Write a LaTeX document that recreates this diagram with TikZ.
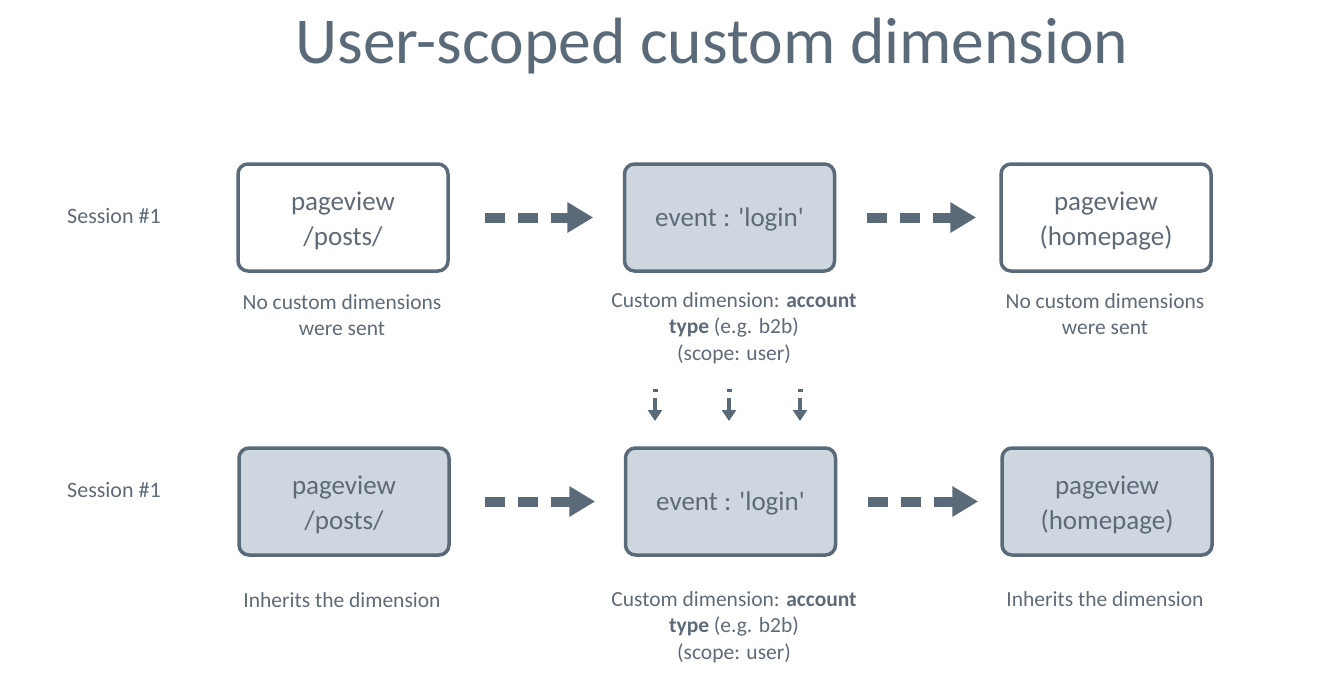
\documentclass[tikz,border=0pt]{standalone}
\usepackage{fontspec}
\setmainfont{Carlito}
\usetikzlibrary{arrows.meta}
\definecolor{slate}{HTML}{5A6A78}
\definecolor{txt}{HTML}{5E6A76}
\definecolor{boxfill}{HTML}{CED6E0}
\tikzset{
  x=1pt,y=1pt,
  stepbox/.style={draw=slate, line width=3.5pt, rounded corners=10pt, minimum width=210pt, minimum height=107pt, inner sep=0pt},
  filledbox/.style={stepbox, fill=boxfill},
  boxtext/.style={align=center, text=txt, font=\fontsize{27}{35}\selectfont, inner sep=0pt},
  lbl/.style={align=center, text=txt, font=\fontsize{21.5}{26.5}\selectfont, inner sep=0pt},
  dasharrow/.style={draw=slate, line width=10pt, dash pattern=on 20pt off 13pt, -{Triangle[length=26pt,width=29pt]}},
  downarrow/.style={draw=slate, line width=4.5pt, -{Triangle[length=11pt,width=14pt]}},
  tick/.style={draw=slate, line width=5pt}
}
\begin{document}
\begin{tikzpicture}
\useasboundingbox (0,0) rectangle (1322,-689);
\node[text=slate, font=\fontsize{65.5}{70}\selectfont, inner sep=0pt] (title) at (712,-46) {User-scoped custom dimension};

% row 1
\node[lbl, anchor=west, font=\fontsize{22}{26}\selectfont] (s1) at (67,-216) {Session \#1};
\node[stepbox] (a1) at (343,-217.5) {};
\node[filledbox] (b1) at (729.5,-217.5) {};
\node[stepbox] (c1) at (1106,-217.5) {};
\node[boxtext] (a1t) at ([yshift=-3.5]a1.center) {pageview\\/posts/};
\node[boxtext] (b1t) at ([yshift=-2]b1.center) {event : \textquotesingle login\textquotesingle};
\node[boxtext] (c1t) at ([yshift=-3.5]c1.center) {pageview\\(homepage)};
\draw[dasharrow, shorten <=35pt, shorten >=29.5pt] (a1.east) -- (b1.west);
\draw[dasharrow, shorten <=30.5pt, shorten >=23pt] (b1.east) -- (c1.west);
\node[lbl] (la1) at (342,-315) {No custom dimensions\\were sent};
\node[lbl] (lb1) at (734,-328) {Custom dimension: \textbf{account}\\\textbf{type} (e.g. b2b)\\(scope: user)};
\node[lbl] (lc1) at (1105,-314) {No custom dimensions\\were sent};

% down arrows
\foreach \i/\x in {1/655,2/729,3/800}{
  \coordinate (t\i a) at (\x,-389);
  \coordinate (t\i b) at (\x,-391.5);
  \coordinate (d\i a) at (\x,-398);
  \coordinate (d\i b) at (\x,-421);
  \draw[tick] (t\i a) -- (t\i b);
  \draw[downarrow] (d\i a) -- (d\i b);
}

% row 2
\node[lbl, anchor=west, font=\fontsize{22}{26}\selectfont] (s2) at (67,-490) {Session \#1};
\node[filledbox] (a2) at (344,-501.5) {};
\node[filledbox] (b2) at (730.5,-501.5) {};
\node[filledbox] (c2) at (1107,-501.5) {};
\node[boxtext] (a2t) at ([yshift=-3.5]a2.center) {pageview\\/posts/};
\node[boxtext] (b2t) at ([yshift=-2]b2.center) {event : \textquotesingle login\textquotesingle};
\node[boxtext] (c2t) at ([yshift=-3.5]c2.center) {pageview\\(homepage)};
\draw[dasharrow, shorten <=34pt, shorten >=28.5pt] (a2.east) -- (b2.west);
\draw[dasharrow, shorten <=30.5pt, shorten >=22pt] (b2.east) -- (c2.west);
\node[lbl] (la2) at (342,-600) {Inherits the dimension};
\node[lbl] (lb2) at (734,-627) {Custom dimension: \textbf{account}\\\textbf{type} (e.g. b2b)\\(scope: user)};
\node[lbl] (lc2) at (1105,-599) {Inherits the dimension};
\end{tikzpicture}
\end{document}
